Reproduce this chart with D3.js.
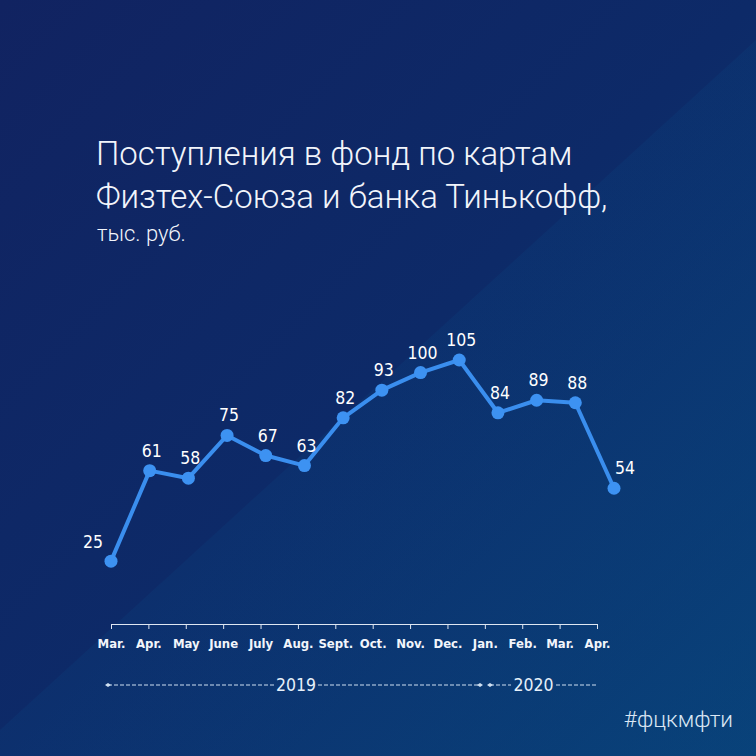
<!DOCTYPE html>
<html><head><meta charset="utf-8">
<script src="https://cdn.jsdelivr.net/npm/d3@7"></script>
<style>
html,body{margin:0;padding:0;background:#0d2a66;}
svg{display:block;}
</style></head>
<body>
<svg id="chart" width="756" height="756"></svg>
<script>
const months = ["Mar.","Apr.","May","June","July","Aug.","Sept.","Oct.","Nov.","Dec.","Jan.","Feb.","Mar.","Apr."];
const values = [25,61,58,75,67,63,82,93,100,105,84,89,88,54];
const years = ["2019","2020"];
const titleLines = ["Поступления в фонд по картам","Физтех-Союза и банка Тинькофф,"];
const subtitle = "тыс. руб.";
const hashtag = "#фцкмфти";

const W = 756, H = 756;
const svg = d3.select("#chart");
const defs = svg.append("defs");
const g1 = defs.append("linearGradient").attr("id","bg").attr("x1","0").attr("y1","0").attr("x2","1").attr("y2","1");
g1.append("stop").attr("offset","0").attr("stop-color","#112361");
g1.append("stop").attr("offset","0.5").attr("stop-color","#0d2a68");
g1.append("stop").attr("offset","1").attr("stop-color","#083f75");
svg.append("rect").attr("width",W).attr("height",H).attr("fill","url(#bg)");
const g2 = defs.append("linearGradient").attr("id","tri").attr("x1","0").attr("y1","0").attr("x2","1").attr("y2","1");
g2.append("stop").attr("offset","0").attr("stop-color","#0b3a78").attr("stop-opacity",0.2);
g2.append("stop").attr("offset","1").attr("stop-color","#0a4a86").attr("stop-opacity",0.3);
svg.append("path").attr("d",`M0,${H} L0,730 L${W},40 L${W},${H} Z`).attr("fill","url(#tri)");

// Title
const title = svg.append("text").attr("x",96).attr("y",165)
  .attr("font-family","Roboto, 'Open Sans', sans-serif").attr("font-weight",300)
  .attr("font-size",33).attr("fill","#f2f5fb");
titleLines.forEach((t,i)=>title.append("tspan").attr("x",96).attr("y",165+i*43).text(t));
svg.append("text").attr("x",97).attr("y",241).attr("font-family","Roboto, sans-serif").attr("font-weight",300)
  .attr("font-size",22).attr("fill","#f2f5fb").text(subtitle);

// Scales
const x = d3.scalePoint().domain(d3.range(months.length)).range([111,614]);
const xAxisScale = d3.scalePoint().domain(d3.range(months.length)).range([111,597]);
const y = d3.scaleLinear().domain([0,105]).range([624,360]);

const condensed = "'DejaVu Sans Condensed', 'Liberation Sans Narrow', 'DejaVu Sans', sans-serif";

// Axis
const axis = d3.axisBottom(xAxisScale).tickSize(5).tickSizeOuter(5).tickFormat(i=>months[i]);
const ax = svg.append("g").attr("transform","translate(0,624)").call(axis);
ax.select(".domain").attr("stroke","#dfe7f2").attr("stroke-width",1);
ax.selectAll(".tick line").attr("stroke","#dfe7f2").attr("stroke-width",1).attr("y1",0).attr("y2",5);
ax.selectAll(".tick text").attr("fill","#f2f5fb").attr("font-family",condensed).attr("font-weight","bold")
  .attr("font-size",13).attr("dy",0).attr("y",24).style("font-stretch","condensed");

// Line
const line = d3.line().x((d,i)=>x(i)).y(d=>y(d));
svg.append("path").datum(values).attr("d",line).attr("fill","none").attr("stroke","#3a8eee")
  .attr("stroke-width",4).attr("stroke-linejoin","round").attr("stroke-linecap","round");
svg.selectAll("circle.pt").data(values).enter().append("circle").attr("class","pt")
  .attr("cx",(d,i)=>x(i)).attr("cy",d=>y(d)).attr("r",6.5).attr("fill","#3d92f2");

// Value labels
const n = values.length;
svg.selectAll("text.val").data(values).enter().append("text").attr("class","val")
  .attr("x",(d,i)=>x(i) + (i===0 ? -18 : i===n-1 ? 11 : 2))
  .attr("y",(d,i)=>y(d) - (i===0 ? 13 : 14))
  .attr("text-anchor","middle").attr("font-family",condensed).attr("font-size",17.5)
  .attr("fill","#ffffff").style("font-stretch","condensed").text(d=>d);

// Year row
const yr = 685;
const yrColor = "#cfe0f2";
const yearG = svg.append("g");
const segs = [[108,274],[318,480],[490,511],[556,598]];
segs.forEach(s=>yearG.append("line").attr("x1",s[0]).attr("x2",s[1]).attr("y1",yr).attr("y2",yr)
  .attr("stroke",yrColor).attr("stroke-width",1).attr("stroke-dasharray","4,2"));
[108,480,490].forEach(cx=>yearG.append("path").attr("d",`M${cx-3},${yr} L${cx},${yr-2} L${cx+3},${yr} L${cx},${yr+2} Z`).attr("fill",yrColor));
const yearCenters = [296,533.5];
years.forEach((t,i)=>yearG.append("text").attr("x",yearCenters[i]).attr("y",yr+6).attr("text-anchor","middle")
  .attr("font-family",condensed).attr("font-size",17.5).attr("fill","#e6f0fa").style("font-stretch","condensed").text(t));

// Hashtag
svg.append("text").attr("x",733).attr("y",727).attr("text-anchor","end").attr("font-family","Roboto, sans-serif")
  .attr("font-weight",300).attr("font-size",22.5).attr("fill","#dbe7f4").text(hashtag);
</script>
</body></html>
